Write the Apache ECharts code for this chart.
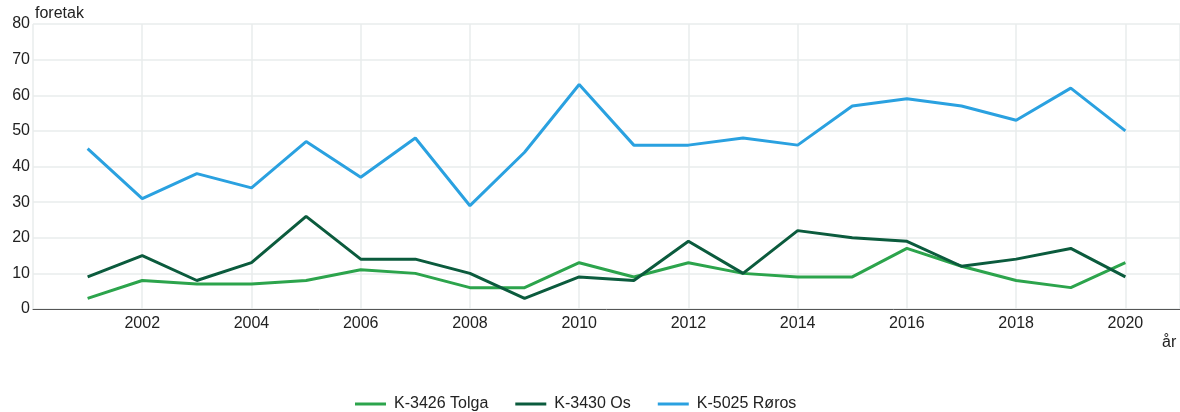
<!DOCTYPE html>
<html>
<head>
<meta charset="utf-8">
<script src="https://cdn.jsdelivr.net/npm/echarts@6/dist/echarts.min.js"></script>
<style>html,body{margin:0;padding:0;background:#fff}#c{width:1180px;height:412px}</style>
</head>
<body>
<div id="c"></div>
<script>
const years = [2001,2002,2003,2004,2005,2006,2007,2008,2009,2010,2011,2012,2013,2014,2015,2016,2017,2018,2019,2020];
const tolga = [3,8,7,7,8,11,10,6,6,13,9,13,10,9,9,17,12,8,6,13];
const os = [9,15,8,13,26,14,14,10,3,9,8,19,10,22,20,19,12,14,17,9];
const roros = [45,31,38,34,47,37,48,29,44,63,46,46,48,46,57,59,57,53,62,50];
const seriesNames = ['K-3426 Tolga','K-3430 Os','K-5025 Røros'];
const yName = 'foretak';
const xName = 'år';
const colors = ['#2ca44c','#0b5b3d','#2aa1e0'];

const chart = echarts.init(document.getElementById('c'));
const pair = arr => years.map((y,i)=>[y,arr[i]]);
const font = '"Liberation Sans", Arial, sans-serif';
const fs = 16;
chart.setOption({
  animation:false,
  textStyle:{fontFamily:font},
  color:colors,
  grid:{left:33,right:0,top:24,bottom:103,containLabel:false},
  legend:{
    top:396, left:355, itemWidth:31, itemHeight:3, itemGap:27, padding:0,
    icon:'rect',
    textStyle:{fontSize:fs,color:'#222',fontFamily:font,padding:[0,0,0,3]},
    data:seriesNames
  },
  xAxis:{
    type:'value', min:2000, max:2021, interval:2,
    axisLine:{lineStyle:{color:'#555',width:1}},
    axisTick:{show:false},
    axisLabel:{fontSize:fs,color:'#222',margin:7,showMinLabel:false,showMaxLabel:false,
      formatter:v=> (v===2000||v===2021)?'':String(v)},
    splitLine:{show:true,lineStyle:{color:'#e8ecec',width:1.5}}
  },
  yAxis:{
    type:'value', min:0, max:80, interval:10,
    axisLine:{show:false}, axisTick:{show:false},
    axisLabel:{fontSize:fs,color:'#222',margin:3},
    splitLine:{lineStyle:{color:'#e8ecec',width:1.5}}
  },
  graphic:[
    {type:'text',left:35,top:6,style:{text:yName,fontSize:fs,fill:'#222',fontFamily:font}},
    {type:'text',left:1162,top:335,style:{text:xName,fontSize:fs,fill:'#222',fontFamily:font}}
  ],
  series:[
    {name:seriesNames[0],type:'line',data:pair(tolga),showSymbol:false,symbol:'none',lineStyle:{width:3}},
    {name:seriesNames[1],type:'line',data:pair(os),showSymbol:false,symbol:'none',lineStyle:{width:3}},
    {name:seriesNames[2],type:'line',data:pair(roros),showSymbol:false,symbol:'none',lineStyle:{width:3}}
  ]
});
</script>
</body>
</html>
